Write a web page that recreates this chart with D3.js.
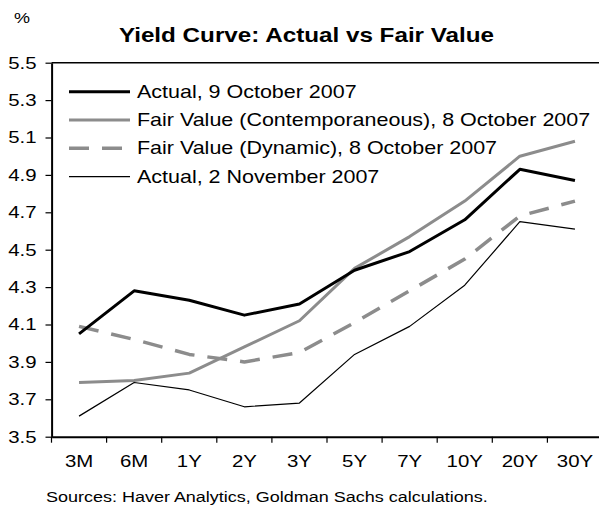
<!DOCTYPE html>
<html>
<head>
<meta charset="utf-8">
<script src="https://cdnjs.cloudflare.com/ajax/libs/d3/7.8.5/d3.min.js"></script>
<style>
  body { margin: 0; background: #fff; }
  text { font-family: "Liberation Sans", Arial, sans-serif; fill: #000; }
</style>
</head>
<body>
<div id="chart"></div>
<script>
// chart data
var tenors = ["3M", "6M", "1Y", "2Y", "3Y", "5Y", "7Y", "10Y", "20Y", "30Y"];
var actualOct9 = [4.05, 4.28, 4.23, 4.15, 4.21, 4.39, 4.49, 4.66, 4.93, 4.87];
var fairContemp = [3.79, 3.80, 3.84, 3.98, 4.12, 4.40, 4.57, 4.76, 5.00, 5.08];
var fairDynamic = [4.09, 4.02, 3.94, 3.90, 3.95, 4.11, 4.28, 4.45, 4.68, 4.76];
var actualNov2 = [3.61, 3.79, 3.75, 3.66, 3.68, 3.94, 4.09, 4.31, 4.65, 4.61];
var yTicks = [3.5, 3.7, 3.9, 4.1, 4.3, 4.5, 4.7, 4.9, 5.1, 5.3, 5.5];

var seriesNames = [
  "Actual, 9 October 2007",
  "Fair Value (Contemporaneous), 8 October 2007",
  "Fair Value (Dynamic), 8 October 2007",
  "Actual, 2 November 2007"
];

// the original picture is stretched sideways, so draw narrow and stretch
var sx = 1.2;
var svgWidth = 599;
var svgHeight = 510;
var vbWidth = svgWidth / sx;

var plot = {
  left: 51.5 / sx,
  right: 602.5 / sx,
  top: 62.7,
  bottom: 436.7
};

var svg = d3.select("#chart")
  .append("svg")
  .attr("width", svgWidth)
  .attr("height", svgHeight)
  .attr("viewBox", `0 0 ${vbWidth} ${svgHeight}`)
  .attr("preserveAspectRatio", "none");

// scales
var xScale = d3.scaleBand()
  .domain(tenors)
  .range([plot.left, plot.right]);

var yScale = d3.scaleLinear()
  .domain([3.5, 5.5])
  .range([plot.bottom, plot.top]);

// top frame line
svg.append("line")
  .attr("x1", plot.left)
  .attr("x2", plot.right)
  .attr("y1", plot.top)
  .attr("y2", plot.top)
  .attr("stroke", "#000")
  .attr("stroke-width", 1.5)
  .attr("vector-effect", "non-scaling-stroke");

// y axis
var yAxis = d3.axisLeft(yScale)
  .tickValues(yTicks)
  .tickFormat(d3.format(".1f"))
  .tickSize(6 / sx)
  .tickSizeOuter(0)
  .tickPadding(9 / sx);

var yG = svg.append("g")
  .attr("transform", `translate(${plot.left}, 0)`)
  .call(yAxis);

// x axis, ticks sit between the categories
var xAxis = d3.axisBottom(xScale)
  .tickSize(0)
  .tickSizeOuter(0)
  .tickPadding(18);

var xG = svg.append("g")
  .attr("transform", `translate(0, ${plot.bottom})`)
  .call(xAxis);

xG.selectAll(".tick")
  .append("line")
  .attr("x1", -xScale.bandwidth() / 2)
  .attr("x2", -xScale.bandwidth() / 2)
  .attr("y1", 0)
  .attr("y2", 6)
  .attr("stroke", "#000");

[yG, xG].forEach(function(g) {
  g.select(".domain").attr("stroke-width", 2);
  g.selectAll("line, path")
    .attr("vector-effect", "non-scaling-stroke")
    .attr("stroke", "#000");
  g.selectAll("line").attr("stroke-width", 1.2);
  g.selectAll("text")
    .attr("font-size", 17)
    .attr("font-family", "Liberation Sans, Arial, sans-serif")
    .attr("fill", "#000");
});

// lines
var line = d3.line()
  .x((d, i) => xScale(tenors[i]) + xScale.bandwidth() / 2)
  .y(d => yScale(d));

var styles = [
  { data: actualOct9, color: "#000", width: 3, dash: null },
  { data: fairContemp, color: "#8c8c8c", width: 3, dash: null },
  { data: fairDynamic, color: "#8c8c8c", width: 3.5, dash: "20,13" },
  { data: actualNov2, color: "#000", width: 1.2, dash: null }
];

var drawOrder = [1, 2, 0, 3];
drawOrder.forEach(function(k) {
  var s = styles[k];
  svg.append("path")
    .datum(s.data)
    .attr("d", line)
    .attr("fill", "none")
    .attr("stroke", s.color)
    .attr("stroke-width", s.width)
    .attr("stroke-dasharray", s.dash)
    .attr("stroke-linejoin", "round")
    .attr("vector-effect", "non-scaling-stroke");
});

// legend
var legendY = [91.7, 120, 148.3, 176.7];
var legend = svg.append("g");

styles.forEach(function(s, i) {
  legend.append("line")
    .attr("x1", 69 / sx)
    .attr("x2", 130 / sx)
    .attr("y1", legendY[i])
    .attr("y2", legendY[i])
    .attr("stroke", s.color)
    .attr("stroke-width", s.width)
    .attr("stroke-dasharray", s.dash)
    .attr("vector-effect", "non-scaling-stroke");
  legend.append("text")
    .attr("x", 137 / sx)
    .attr("y", legendY[i] + 6)
    .attr("font-size", 17.9)
    .text(seriesNames[i]);
});

// title, unit and source
svg.append("text")
  .attr("x", 306.5 / sx)
  .attr("y", 42)
  .attr("text-anchor", "middle")
  .attr("font-size", 20.2)
  .attr("font-weight", "bold")
  .text("Yield Curve: Actual vs Fair Value");

svg.append("text")
  .attr("x", 14 / sx)
  .attr("y", 23)
  .attr("font-size", 15)
  .text("%");

svg.append("text")
  .attr("x", 46 / sx)
  .attr("y", 502)
  .attr("font-size", 15)
  .text("Sources: Haver Analytics, Goldman Sachs calculations.");
</script>
</body>
</html>
